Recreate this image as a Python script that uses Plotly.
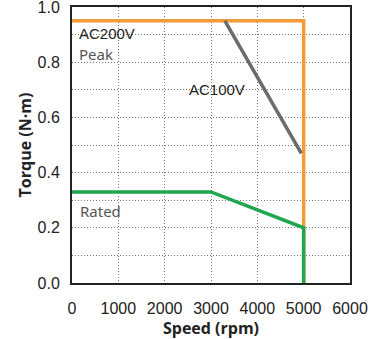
import plotly.graph_objects as go

# Data
peak200_speed = [0, 5000, 5000]
peak200_torque = [0.95, 0.95, 0.0]
peak100_speed = [3300, 4950]
peak100_torque = [0.95, 0.47]
rated_speed = [0, 3000, 5000, 5000]
rated_torque = [0.33, 0.33, 0.20, 0.0]
x_ticks = [0, 1000, 2000, 3000, 4000, 5000, 6000]
y_ticks = [0.0, 0.2, 0.4, 0.6, 0.8, 1.0]

fig = go.Figure()
fig.add_trace(go.Scatter(x=peak200_speed, y=peak200_torque, mode="lines",
                         line=dict(color="#F39A3B", width=3.5), showlegend=False))
fig.add_trace(go.Scatter(x=peak100_speed, y=peak100_torque, mode="lines",
                         line=dict(color="#6B6B6B", width=3.5), showlegend=False))
fig.add_trace(go.Scatter(x=rated_speed, y=rated_torque, mode="lines",
                         line=dict(color="#1FA64F", width=3.5), showlegend=False))

tickfont = dict(family="Liberation Sans, Arial", size=16, color="#222")
grid = dict(showgrid=True, gridcolor="#777", griddash="1px,2px", gridwidth=1)
fig.update_xaxes(range=[0, 6000], tickvals=x_ticks, ticktext=[str(v) for v in x_ticks],
                 showline=True, linecolor="#222", linewidth=2, mirror=True,
                 ticks="", tickfont=tickfont, zeroline=False, automargin=False,
                 ticklabelstandoff=10, ticklabeloverflow="allow",
                 title=dict(text="<b>Speed (rpm)</b>", font=dict(family="Open Sans", size=16, color="#222"), standoff=0),
                 **grid)
fig.update_yaxes(range=[0, 1.0], tickvals=y_ticks, ticktext=["%.1f" % v for v in y_ticks],
                 minor=dict(dtick=0.1, showgrid=True, gridcolor="#777", griddash="1px,2px", gridwidth=1),
                 showline=True, linecolor="#222", linewidth=2, mirror=True,
                 ticks="", tickfont=tickfont, zeroline=False, automargin=False,
                 ticklabelstandoff=7, ticklabeloverflow="allow",
                 title=dict(text="<b>Torque (N·m)</b>", font=dict(family="Open Sans", size=16, color="#222"), standoff=2),
                 **grid)

ann_font = dict(family="Liberation Sans, Arial", size=15, color="#222")
ann_font2 = dict(family="Noto Sans", size=15, color="#555")
fig.add_annotation(x=100, y=0.905, text="AC200V", showarrow=False, xanchor="left", font=ann_font)
fig.add_annotation(x=100, y=0.83, text="Peak", showarrow=False, xanchor="left", font=ann_font2)
fig.add_annotation(x=2480, y=0.70, text="AC100V", showarrow=False, xanchor="left", font=ann_font)
fig.add_annotation(x=120, y=0.26, text="Rated", showarrow=False, xanchor="left", font=ann_font2)

fig.update_layout(width=385, height=339, margin=dict(l=72, r=35, t=7, b=56),
                  plot_bgcolor="white", paper_bgcolor="white")
fig.write_html("out.html", config={"displayModeBar": False},
               post_script="document.body.style.margin='0';")
